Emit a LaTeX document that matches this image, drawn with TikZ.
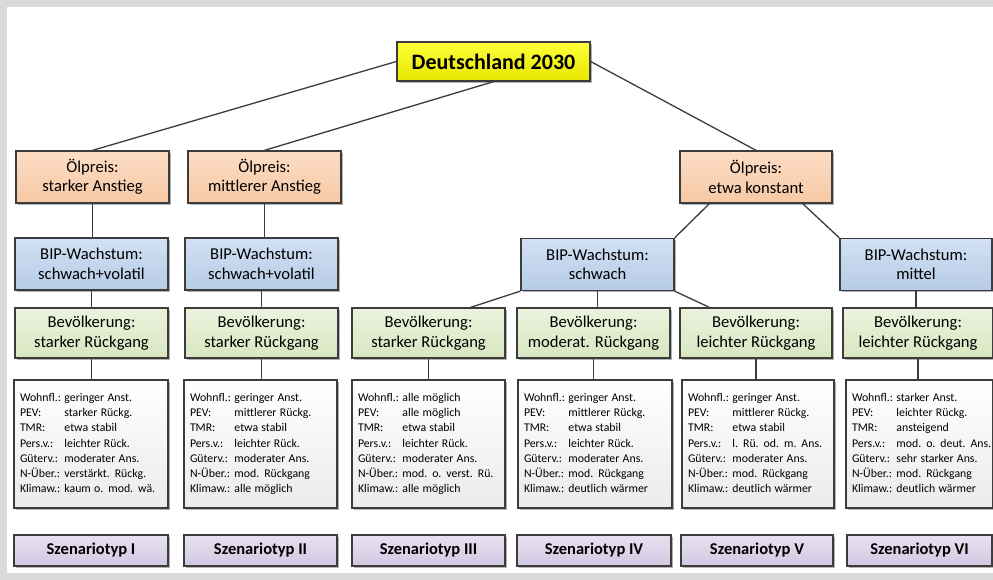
\documentclass[tikz,border=0pt]{standalone}
\usepackage{fontspec}
\setmainfont{Carlito}
\usetikzlibrary{shadows}

\definecolor{edgegray}{HTML}{3C3C3C}
\definecolor{framegray}{HTML}{D9D9D9}
\definecolor{yelTop}{HTML}{FFFF3A}
\definecolor{yelBot}{HTML}{E6E600}
\definecolor{orTop}{HTML}{FDDDC4}
\definecolor{orBot}{HTML}{F6C9A6}
\definecolor{blTop}{HTML}{D2E1F4}
\definecolor{blBot}{HTML}{B6CBE6}
\definecolor{grTop}{HTML}{EBF3DE}
\definecolor{grBot}{HTML}{D8E6C0}
\definecolor{whTop}{HTML}{FFFFFF}
\definecolor{whBot}{HTML}{EBEBEB}
\definecolor{puTop}{HTML}{E8E1F0}
\definecolor{puBot}{HTML}{D2C7E2}

% seven-line fact sheet of one scenario
\newcommand{\factsheet}[7]{%
  \fontsize{11.8}{15.3}\selectfont
  \begin{tabular}{@{}l@{\hspace{3.5pt}}l@{}}
    Wohnfl.: & #1\\
    PEV: & #2\\
    TMR: & #3\\
    Pers.v.: & #4\\
    Güterv.: & #5\\
    N-Über.: & #6\\
    Klimaw.: & #7
  \end{tabular}}

\begin{document}
\begin{tikzpicture}[x=1pt,y=-1pt,
  box/.style={rectangle, draw=edgegray, line width=1.3pt, align=center,
    inner sep=0pt, shading=axis, shading angle=0,
    drop shadow={shadow xshift=1.6pt, shadow yshift=-1.6pt, opacity=0.3, fill=black}},
  rootbox/.style={box, top color=yelTop, bottom color=yelBot,
    font=\fontsize{22}{26}\selectfont\bfseries},
  oilbox/.style={box, top color=orTop, bottom color=orBot,
    font=\fontsize{16.6}{19.5}\selectfont},
  gdpbox/.style={box, top color=blTop, bottom color=blBot,
    font=\fontsize{16.6}{19.5}\selectfont},
  popbox/.style={box, top color=grTop, bottom color=grBot,
    font=\fontsize{16.6}{19.5}\selectfont},
  factbox/.style={box, top color=whTop, bottom color=whBot,
    align=left, inner xsep=6pt},
  typebox/.style={box, top color=puTop, bottom color=puBot,
    font=\fontsize{16.5}{19}\selectfont\bfseries},
  link/.style={draw=edgegray, line width=1.3pt}
]
% frame and canvas
\fill[framegray] (0,0) rectangle (993,580);
\fill[white] (7,7) rectangle (993,573);
\useasboundingbox (0,0) rectangle (993,580);

% root
\node[rootbox, minimum width=193pt, minimum height=39pt] (root) at (493.5,61.5) {Deutschland 2030};

% oil price
\node[oilbox, minimum width=153pt, minimum height=52pt] (oilA) at (92.5,177) {Ölpreis:\\starker Anstieg};
\node[oilbox, minimum width=153pt, minimum height=52pt] (oilB) at (264.5,177) {Ölpreis:\\mittlerer Anstieg};
\node[oilbox, minimum width=152pt, minimum height=52pt] (oilC) at (756,177) {Ölpreis:\\etwa konstant};

% GDP growth
\node[gdpbox, minimum width=153pt, minimum height=52pt] (gdpA) at (91.5,264) {BIP-Wachstum:\\schwach+volatil};
\node[gdpbox, minimum width=153pt, minimum height=52pt] (gdpB) at (261.5,264) {BIP-Wachstum:\\schwach+volatil};
\node[gdpbox, minimum width=153pt, minimum height=52pt] (gdpC) at (597.5,264.5) {BIP-Wachstum:\\schwach};
\node[gdpbox, minimum width=152pt, minimum height=52pt] (gdpD) at (916,264.5) {BIP-Wachstum:\\mittel};

% population
\node[popbox, minimum width=153pt, minimum height=50pt] (popA) at (91.5,333) {Bevölkerung:\\starker Rückgang};
\node[popbox, minimum width=153pt, minimum height=50pt] (popB) at (261.5,333) {Bevölkerung:\\starker Rückgang};
\node[popbox, minimum width=153pt, minimum height=50pt] (popC) at (428.5,333) {Bevölkerung:\\starker Rückgang};
\node[popbox, minimum width=153pt, minimum height=50pt] (popD) at (593.5,333) {Bevölkerung:\\moderat. Rückgang};
\node[popbox, minimum width=152pt, minimum height=50pt] (popE) at (756,333) {Bevölkerung:\\leichter Rückgang};
\node[popbox, minimum width=150pt, minimum height=50pt] (popF) at (918,333) {Bevölkerung:\\leichter Rückgang};

% fact sheets
\node[factbox, minimum width=154pt, minimum height=128pt, text width=142pt] (facA) at (91,444)
  {\factsheet{geringer Anst.}{starker Rückg.}{etwa stabil}{leichter Rück.}{moderater Ans.}{verstärkt. Rückg.}{kaum o. mod. wä.}};
\node[factbox, minimum width=153pt, minimum height=128pt, text width=141pt] (facB) at (260.5,444)
  {\factsheet{geringer Anst.}{mittlerer Rückg.}{etwa stabil}{leichter Rück.}{moderater Ans.}{mod. Rückgang}{alle möglich}};
\node[factbox, minimum width=153pt, minimum height=128pt, text width=141pt] (facC) at (428.5,444)
  {\factsheet{alle möglich}{alle möglich}{etwa stabil}{leichter Rück.}{moderater Ans.}{mod. o. verst. Rü.}{alle möglich}};
\node[factbox, minimum width=154pt, minimum height=128pt, text width=142pt] (facD) at (595,444)
  {\factsheet{geringer Anst.}{mittlerer Rückg.}{etwa stabil}{leichter Rück.}{moderater Ans.}{mod. Rückgang}{deutlich wärmer}};
\node[factbox, minimum width=152pt, minimum height=128pt, text width=140pt] (facE) at (758,444)
  {\factsheet{geringer Anst.}{mittlerer Rückg.}{etwa stabil}{l. Rü. od. m. Ans.}{moderater Ans.}{mod. Rückgang}{deutlich wärmer}};
\node[factbox, minimum width=147pt, minimum height=128pt, text width=135pt] (facF) at (919.5,444)
  {\factsheet{starker Anst.}{leichter Rückg.}{ansteigend}{mod. o. deut. Ans.}{sehr starker Ans.}{mod. Rückgang}{deutlich wärmer}};

% scenario types
\node[typebox, minimum width=154pt, minimum height=31pt] (typA) at (91,550.5) {Szenariotyp I};
\node[typebox, minimum width=153pt, minimum height=31pt] (typB) at (260.5,550.5) {Szenariotyp II};
\node[typebox, minimum width=153pt, minimum height=31pt] (typC) at (428.5,550.5) {Szenariotyp III};
\node[typebox, minimum width=154pt, minimum height=31pt] (typD) at (594,550.5) {Szenariotyp IV};
\node[typebox, minimum width=152pt, minimum height=31pt] (typE) at (757,550.5) {Szenariotyp V};
\node[typebox, minimum width=145pt, minimum height=31pt] (typF) at (919.5,550.5) {Szenariotyp VI};

% connectors
\path[link] (root.west) -- (oilA.north);
\path[link] (root.south) -- (oilB.north);
\path[link] (root.east) -- (oilC.north);

\path[link] (oilA.south) -- (oilA.south |- gdpA.north);
\path[link] (oilB.south) -- (oilB.south |- gdpB.north);
\path[link] ([xshift=30pt]oilC.south west) -- (gdpC.north east);
\path[link] ([xshift=-30pt]oilC.south east) -- (gdpD.north west);

\path[link] (gdpA.south) -- (gdpA.south |- popA.north);
\path[link] (gdpB.south) -- (gdpB.south |- popB.north);
\path[link] (gdpC.south west) -- ([xshift=-35pt]popC.north east);
\path[link] (gdpC.south) -- (gdpC.south |- popD.north);
\path[link] (gdpC.south east) -- ([xshift=30pt]popE.north west);
\path[link] (gdpD.south) -- (gdpD.south |- popF.north);

\path[link] (popA.south) -- (popA.south |- facA.north);
\path[link] (popB.south) -- (popB.south |- facB.north);
\path[link] (popC.south) -- (popC.south |- facC.north);
\path[link] (popD.south) -- (popD.south |- facD.north);
\path[link] (popE.south) -- (popE.south |- facE.north);
\path[link] (popF.south) -- (popF.south |- facF.north);
\end{tikzpicture}
\end{document}
